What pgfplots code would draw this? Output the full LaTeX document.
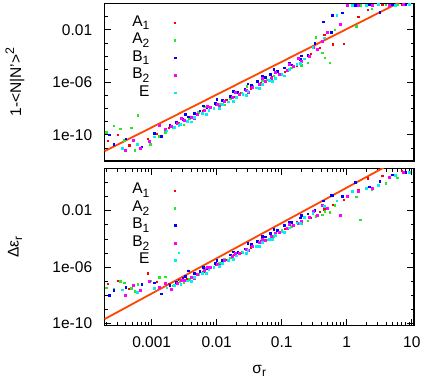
\documentclass[border=0pt]{standalone}
\usepackage{fontspec}
\setmainfont{Liberation Sans}
\usepackage{pgfplots}
\usepackage{pgfplotstable}
\pgfplotsset{compat=1.18}
\definecolor{cA}{RGB}{255,0,0}
\definecolor{cB}{RGB}{40,230,40}
\definecolor{cC}{RGB}{0,0,255}
\definecolor{cD}{RGB}{255,0,255}
\definecolor{cE}{RGB}{0,240,240}
\definecolor{cL}{RGB}{255,69,0}
\newcommand\sub[1]{\raisebox{-0.24em}{\fontsize{12}{12}\selectfont #1}}
\newcommand\sups[1]{\raisebox{0.45em}{\fontsize{12.4}{12}\selectfont #1}}

% columns: s = sigma_r, n = 1-<N|N'>^2, e = Delta eps_r
\pgfplotstableread{
s n e
0.00021 3.7e-11 6.6e-8
0.0003 1.0e-10 1.1e-7
0.00045 1.6e-11 3.0e-8
0.00088 5.0e-11 3.7e-7
0.0012 1.2e-10 1.0e-7
0.0018 3.2e-10 6.3e-8
0.0026 7.9e-10 1.26e-7
0.0035 1.26e-9 1.4e-7
0.0042 2.5e-9 2.0e-7
0.0062 6.3e-9 5.1e-7
0.0078 1.1e-8 8.9e-7
0.0095 1.8e-8 1.4e-6
0.014 4.5e-8 3.5e-6
0.018 7.9e-8 7.1e-6
0.023 1.5e-7 1.1e-5
0.033 3.5e-7 2.6e-5
0.048 8.5e-7 7.9e-5
0.07 2.5e-6 1.8e-4
0.11 6.3e-6 5.0e-4
0.17 2.0e-5 1.6e-3
0.28 1.6e-4 3.2e-3
0.38 4.0e-4 7.9e-3
0.45 4.0e-3 0.0126
0.6 7.9e-4 0.028
0.9 8.0e-4 0.063
1.5 0.1 0.32
2.1 0.32 2.0
3.5 0.79 3.2
7.0 0.83 6.3
}\tA
\pgfplotstableread{
s n e
0.0002 1.6e-10 3.5e-8
0.00026 5.0e-10 2.8e-8
0.00033 2.8e-10 1.0e-7
0.00038 4.0e-11 7.9e-8
0.00048 3.4e-10 3.2e-8
0.00055 6.5e-12 2.0e-8
0.00061 3.2e-9 6.3e-8
0.00094 1.9e-11 1.1e-7
0.0013 7.9e-11 2.0e-7
0.0016 1.6e-10 2.1e-7
0.0021 3.7e-10 5.0e-8
0.0027 6.8e-10 1.0e-7
0.0031 6.0e-10 7.9e-8
0.0038 1.6e-9 1.4e-7
0.0052 5.0e-9 3.2e-7
0.0064 1.35e-8 8.7e-7
0.0075 7.9e-9 7.1e-7
0.011 2.2e-8 2.0e-6
0.013 1.9e-8 3.7e-6
0.016 6.3e-8 4.8e-6
0.024 1.6e-7 1.2e-5
0.029 5.1e-7 1.95e-5
0.036 5.0e-7 3.2e-5
0.05 1.26e-6 6.3e-5
0.06 1.5e-6 8.5e-5
0.075 3.2e-6 1.6e-4
0.1 4.0e-6 4.0e-4
0.14 1.26e-5 7.9e-4
0.2 2.0e-5 1.26e-3
0.25 3.2e-5 2.0e-3
0.33 2.8e-3 4.0e-3
0.42 1.8e-4 5.0e-3
0.46 7.6e-5 8.9e-3
0.55 3.2e-5 7.9e-3
0.65 0.01 0.025
1.4 0.019 0.1
1.6 0.76 2.3e-3
2.4 0.4 0.32
4.0 0.79 0.89
6.0 0.79 2.2
}\tB
\pgfplotstableread{
s n e
0.00022 1.0e-10 1.0e-8
0.00026 2.0e-11 2.2e-8
0.0004 5.0e-11 4.0e-8
0.0007 1.26e-11 6.3e-8
0.0011 1.26e-10 7.9e-8
0.0014 7.9e-11 1.3e-8
0.0019 5.2e-10 5.0e-8
0.0024 9.1e-10 8.9e-8
0.003 1.55e-9 1.6e-7
0.0033 3.5e-9 2.3e-7
0.0036 2.4e-9 5.6e-7
0.0045 4.2e-9 3.8e-7
0.0055 6.8e-9 4.9e-7
0.0062 1.6e-8 1.0e-6
0.007 1.2e-8 8.7e-7
0.0095 2.5e-8 1.8e-6
0.01 5.0e-8 3.2e-6
0.012 4.4e-8 3.1e-6
0.016 8.7e-8 7.6e-6
0.018 2.0e-7 1.26e-5
0.021 1.66e-7 1.15e-5
0.027 3.0e-7 2.0e-5
0.03 7.8e-7 4.7e-5
0.034 5.9e-7 4.0e-5
0.042 1.26e-6 7.2e-5
0.05 3.0e-6 1.55e-4
0.055 2.4e-6 1.4e-4
0.066 4.2e-6 2.4e-4
0.075 1.0e-5 4.6e-4
0.085 6.8e-6 4.3e-4
0.11 1.26e-5 8.9e-4
0.13 3.0e-5 1.66e-3
0.14 2.2e-5 1.55e-3
0.19 5.9e-5 3.2e-3
0.2 1.05e-4 4.6e-3
0.25 1.15e-4 6.2e-3
0.32 1.0e-3 0.011
0.43 0.041 0.05
0.58 6.3e-3 0.13
0.6 0.126 0.126
0.85 0.2 0.1
1.35 0.76 1.0
2.2 0.79 0.5
3.2 0.22 1.26
5.0 0.83 3.5
8.0 0.79 5.6
}\tC
\pgfplotstableread{
s n e
0.00039 6.3e-12 1.1e-8
0.00052 4.0e-11 5.0e-8
0.00066 1.0e-11 2.5e-8
0.0009 3.2e-11 1.0e-7
0.0013 5.0e-10 3.5e-8
0.0016 2.5e-10 7.1e-8
0.002 4.5e-10 2.8e-8
0.0025 7.2e-10 7.9e-8
0.0028 1.9e-9 1.1e-7
0.0032 1.3e-9 1.26e-7
0.004 2.2e-9 2.0e-7
0.0045 1.9e-9 1.7e-7
0.005 3.8e-9 3.2e-7
0.0065 7.1e-9 5.6e-7
0.0072 1.6e-8 1.0e-6
0.008 1.2e-8 9.3e-7
0.01 2.0e-8 1.6e-6
0.011 1.6e-8 1.4e-6
0.013 3.7e-8 3.0e-6
0.017 7.1e-8 5.5e-6
0.019 1.66e-7 1.0e-5
0.022 1.3e-7 1.0e-5
0.028 2.3e-7 1.8e-5
0.031 1.9e-7 1.6e-5
0.035 4.1e-7 3.0e-5
0.045 7.4e-7 5.4e-5
0.05 1.9e-6 9.8e-5
0.055 1.2e-6 8.7e-5
0.07 2.1e-6 1.55e-4
0.08 5.9e-6 2.6e-4
0.09 3.9e-6 2.75e-4
0.12 7.8e-6 5.5e-4
0.13 2.3e-5 1.05e-3
0.15 1.6e-5 9.1e-4
0.18 6.5e-5 1.4e-3
0.2 4.0e-5 1.8e-3
0.26 1.0e-4 3.3e-3
0.3 5.0e-4 9.3e-3
0.35 3.2e-4 5.0e-3
0.42 1.26e-3 0.025
0.5 6.3e-3 0.016
0.8 0.025 5.0e-3
1.0 0.79 0.1
1.5 0.79 0.25
2.5 0.76 0.4
4.5 0.79 2.2
7.5 0.89 5.6
}\tD
\pgfplotstableread{
s n e
0.00035 1.0e-11 2.5e-8
0.0006 2.0e-11 1.6e-8
0.0011 7.1e-11 3.2e-8
0.0017 2.0e-10 3.5e-8
0.0022 3.7e-10 5.6e-8
0.0026 5.6e-10 1.07e-5
0.0028 6.6e-10 6.3e-8
0.0035 1.15e-9 1.1e-7
0.004 1.0e-9 1.0e-7
0.0045 2.1e-9 1.9e-7
0.006 4.2e-9 3.8e-7
0.0068 3.5e-9 3.6e-7
0.0075 7.1e-9 6.5e-7
0.009 1.1e-8 9.8e-7
0.011 1.1e-8 1.1e-6
0.012 2.2e-8 1.95e-6
0.015 3.3e-8 3.2e-6
0.018 3.6e-8 3.5e-6
0.02 7.4e-8 6.5e-6
0.025 1.3e-7 1.1e-5
0.028 1.05e-7 1.0e-5
0.03 1.95e-7 1.66e-5
0.04 3.9e-7 3.2e-5
0.045 3.3e-7 3.0e-5
0.05 6.8e-7 5.5e-5
0.065 1.4e-6 1.0e-4
0.072 1.15e-6 9.1e-5
0.08 2.1e-6 1.86e-4
0.1 4.0e-6 3.2e-4
0.11 3.2e-6 2.8e-4
0.13 1.0e-5 6.3e-4
0.17 2.5e-5 1.4e-3
0.19 3.0e-5 1.3e-3
0.22 6.3e-5 3.5e-3
0.3 5.0e-4 6.3e-3
0.45 2.5e-3 0.02
0.7 0.126 0.05
1.2 0.71 0.25
2.0 0.76 0.4
3.0 0.83 0.63
5.5 0.79 3.2
9.0 0.89 5.0
}\tE

\pgfplotsset{
  myax/.style={
    scale only axis,
    width=309.5pt, height=157.5pt,
    xmin=1.88e-4, xmax=10.8,
    /pgf/number format/assume math mode=true,
    axis line style={line width=1.1pt},
    tick align=inside,
    major tick length=7pt, minor tick length=3.5pt,
    every tick/.style={black, line width=0.7pt},
    yticklabel style={xshift=-7pt},
    ylabel style={at={(axis description cs:-0.289,0.5)}, anchor=center},
    legend style={draw=none, fill=none, anchor=north east,
      legend cell align=right, row sep=0.5pt, column sep=24pt,
      nodes={inner sep=0.5pt, text height=11.5pt, text depth=4.5pt}},
    legend plot pos=right,
  },
  pA/.style={only marks, mark=square*, mark size=0.55pt, color=cA, mark options={draw=none, fill=cA}},
  pB/.style={only marks, mark=square*, mark size=0.75pt, color=cB, mark options={draw=none, fill=cB}},
  pC/.style={only marks, mark=square*, mark size=0.85pt, color=cC, mark options={draw=none, fill=cC}},
  pD/.style={only marks, mark=square*, mark size=1.0pt, color=cD, mark options={draw=none, fill=cD}},
  pE/.style={only marks, mark=square*, mark size=0.9pt, color=cE, mark options={draw=none, fill=cE}},
}

\begin{document}
\fontsize{15.5}{18}\selectfont
\begin{tikzpicture}
\path[use as bounding box] (-104.5pt,3.5pt) rectangle (323.5pt,-378.5pt);
\begin{loglogaxis}[myax, name=top, at={(0pt,0pt)}, anchor=north west,
  ymin=1e-12, ymax=1,
  ytick={1e-10,1e-6,1e-2}, yticklabels={1e-10,1e-06,0.01},
  minor ytick={1e-12,1e-11,1e-9,1e-8,1e-7,1e-5,1e-4,1e-3,1e-1,1},
  xtick=\empty,
  ylabel={1-<N|N{\char"27}>\sups{2}},
  legend style={at={(axis description cs:0.241,0.946)}},
]
\addplot[pA] table[x=s,y=n]{\tA};
\addlegendentry{A\sub{1}}
\addplot[pB] table[x=s,y=n]{\tB};
\addlegendentry{A\sub{2}}
\addplot[pC] table[x=s,y=n]{\tC};
\addlegendentry{B\sub{1}}
\addplot[pD] table[x=s,y=n]{\tD};
\addlegendentry{B\sub{2}}
\addplot[pE] table[x=s,y=n]{\tE};
\addlegendentry{E}
\addplot[no marks, line width=1.8pt, color=cL, forget plot] coordinates {(1.88e-4,5.56e-12) (10.8,4.4)};
\end{loglogaxis}
\begin{loglogaxis}[myax, name=bot, at={(top.south west)}, anchor=north west, yshift=-7.3pt,
  ymin=7e-11, ymax=10,
  ytick={1e-10,1e-6,1e-2}, yticklabels={1e-10,1e-06,0.01},
  minor ytick={1e-9,1e-8,1e-7,1e-5,1e-4,1e-3,1e-1,1,10},
  xtick={1e-3,1e-2,1e-1,1,10}, xticklabels={0.001,0.01,0.1,1,10},
  minor xtick={2e-4,3e-4,4e-4,5e-4,6e-4,7e-4,8e-4,9e-4,2e-3,3e-3,4e-3,5e-3,6e-3,7e-3,8e-3,9e-3,0.02,0.03,0.04,0.05,0.06,0.07,0.08,0.09,0.2,0.3,0.4,0.5,0.6,0.7,0.8,0.9,2,3,4,5,6,7,8,9},
  xticklabel style={yshift=-6pt},
  xlabel={σ\sub{r}},
  xlabel style={at={(axis description cs:0.5,0)}, anchor=center, yshift=-45pt},
  ylabel={Δε\sub{r}},
  legend style={at={(axis description cs:0.241,0.927)}},
]
\addplot[pA] table[x=s,y=e]{\tA};
\addlegendentry{A\sub{1}}
\addplot[pB] table[x=s,y=e]{\tB};
\addlegendentry{A\sub{2}}
\addplot[pC] table[x=s,y=e]{\tC};
\addlegendentry{B\sub{1}}
\addplot[pD] table[x=s,y=e]{\tD};
\addlegendentry{B\sub{2}}
\addplot[pE] table[x=s,y=e]{\tE};
\addlegendentry{E}
\addplot[no marks, line width=1.8pt, color=cL, forget plot] coordinates {(1.88e-4,2.07e-10) (10.8,163)};
\end{loglogaxis}
\end{tikzpicture}
\end{document}
